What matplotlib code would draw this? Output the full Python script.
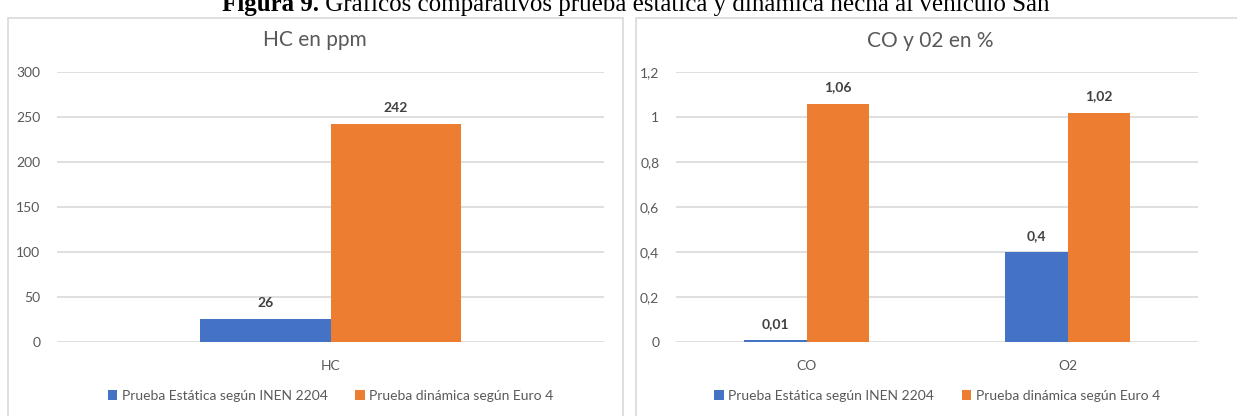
import numpy as np
import matplotlib
matplotlib.use('Agg')
import matplotlib.pyplot as plt
from matplotlib.patches import Rectangle

# data
hc_cats = ['HC']
hc_estatica = [26]
hc_dinamica = [242]
hc_ticks = [0, 50, 100, 150, 200, 250, 300]

gas_cats = ['CO', 'O2']
gas_estatica = [0.01, 0.4]
gas_dinamica = [1.06, 1.02]
gas_ticks = [0, 0.2, 0.4, 0.6, 0.8, 1.0, 1.2]

serie_names = ['Prueba Estática según INEN 2204', 'Prueba dinámica según Euro 4']
colors = ['#4472C4', '#ED7D31']

plt.rcParams['font.family'] = ['Lato', 'DejaVu Sans']

W, H = 1237, 416
fig = plt.figure(figsize=(W / 100, H / 100), dpi=100)

def px(x0, y_top, x1, y_bot):
    # pixel box -> figure fraction
    return [x0 / W, 1 - y_bot / H, (x1 - x0) / W, (y_bot - y_top) / H]

def fmt(v):
    return ('%g' % v).replace('.', ',')

# panel frames
for (x0, x1) in [(8, 623), (636, 1250)]:
    fig.patches.append(Rectangle((x0 / W, -0.1), (x1 - x0) / W, 1.1 - 18 / H,
                                 transform=fig.transFigure, fill=False,
                                 edgecolor='#d9d9d9', lw=1.2))

def draw(ax, cats, est, din, ticks, ymax, bw):
    x = np.arange(len(cats))
    b1 = ax.bar(x - bw / 2, est, bw, color=colors[0], label=serie_names[0])
    b2 = ax.bar(x + bw / 2, din, bw, color=colors[1], label=serie_names[1])
    for bars in (b1, b2):
        for r in bars:
            v = r.get_height()
            ax.annotate(fmt(v), (r.get_x() + r.get_width() / 2, v),
                        xytext=(0, 11.5), textcoords='offset points',
                        ha='center', va='center', fontsize=10,
                        fontweight='bold', color='#404040')
    ax.set_xlim(-0.5, len(cats) - 0.5)
    ax.set_ylim(0, ymax)
    ax.set_yticks(ticks)
    ax.set_yticklabels([fmt(t) for t in ticks])
    ax.set_xticks(x)
    ax.set_xticklabels(cats)
    ax.tick_params(length=0, labelsize=10, labelcolor='#595959')
    ax.tick_params(axis='x', pad=13)
    ax.tick_params(axis='y', pad=12)
    ax.grid(axis='y', color='#d9d9d9', lw=1.2)
    ax.set_axisbelow(True)
    for s in ax.spines.values():
        s.set_visible(False)
    ax.legend(loc='center', bbox_to_anchor=(0.5, -0.2), ncol=2, frameon=False,
              fontsize=10, labelcolor='#595959', handlelength=0.7,
              handleheight=0.7, handletextpad=0.3, columnspacing=2.0)

ax1 = fig.add_axes(px(57, 72, 604, 342))
draw(ax1, hc_cats, hc_estatica, hc_dinamica, hc_ticks, 300, 0.2377)

ax2 = fig.add_axes(px(676, 72, 1198, 342))
draw(ax2, gas_cats, gas_estatica, gas_dinamica, gas_ticks, 1.2, 0.24)

fig.text(315 / W, 1 - 40 / H, 'HC en ppm', ha='center', va='center',
         fontsize=15, color='#595959')
fig.text(930 / W, 1 - 41 / H, 'CO y 02 en %', ha='center', va='center',
         fontsize=15, color='#595959')

# caption (cropped at the top edge, as in the source image)
t1 = fig.text(222 / W, 1 - 11 / H, 'Figura 9.', fontsize=18, fontweight='bold',
              family='Liberation Serif', va='baseline', ha='left')
ax1.annotate(' Gráficos comparativos prueba estática y dinámica hecha al vehículo San',
             xy=(1, 0), xycoords=t1, fontsize=18, family='Liberation Serif',
             va='bottom', ha='left', annotation_clip=False)

fig.savefig('out.png', dpi=100)
